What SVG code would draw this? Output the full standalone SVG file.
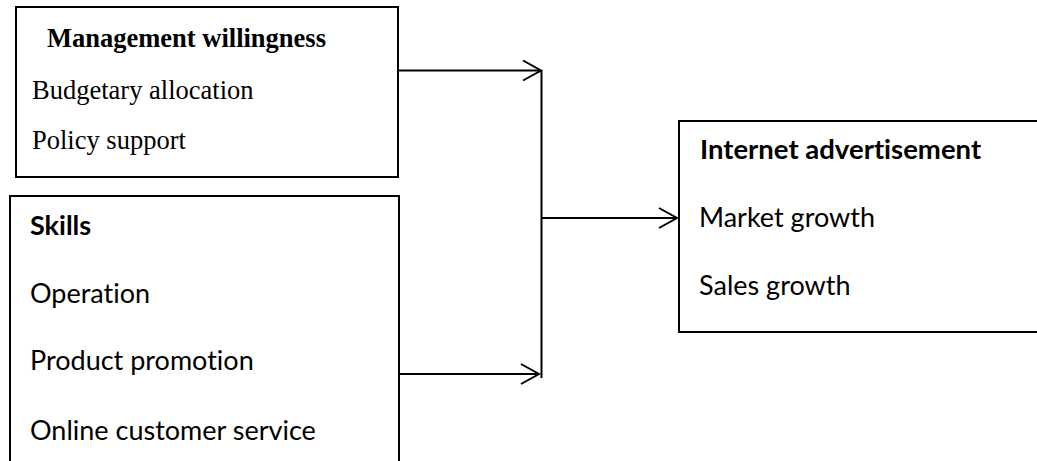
<svg xmlns="http://www.w3.org/2000/svg" width="1037" height="461" viewBox="0 0 1037 461">
<style>
.box{fill:#fff;stroke:#000;stroke-width:2}
.serif{font-family:"Liberation Serif","Times New Roman",serif;font-size:26.5px;fill:#000}
.sans{font-family:Lato,"Open Sans",sans-serif;font-size:27px;fill:#000;font-variant-ligatures:none}
.b{font-weight:bold}
.conn{fill:none;stroke:#000;stroke-width:2}
</style>
<defs>
<marker id="arr" markerUnits="userSpaceOnUse" markerWidth="22" markerHeight="24" refX="19" refY="11" orient="auto">
<path d="M1,1 L19,11 L1,21" fill="none" stroke="#000" stroke-width="2"/>
</marker>
</defs>
<g id="management">
<rect class="box" x="16" y="7" width="382" height="170"/>
<text class="serif b" x="47" y="47">Management willingness</text>
<text class="serif" x="32" y="99">Budgetary allocation</text>
<text class="serif" x="32" y="149">Policy support</text>
</g>
<g id="skills">
<rect class="box" x="10" y="196" width="389" height="280"/>
<text class="sans b" x="30" y="235">Skills</text>
<text class="sans" x="30" y="303">Operation</text>
<text class="sans" x="30" y="370">Product promotion</text>
<text class="sans" x="30" y="440">Online customer service</text>
</g>
<g id="internet">
<rect class="box" x="679" y="121" width="360" height="211"/>
<text class="sans b" x="700" y="159" style="font-size:27.5px">Internet advertisement</text>
<text class="sans" x="699" y="227">Market growth</text>
<text class="sans" x="699" y="295">Sales growth</text>
</g>
<g id="connectors">
<line class="conn" x1="398" y1="70.5" x2="541" y2="70.5" marker-end="url(#arr)"/>
<line class="conn" x1="399" y1="374" x2="539" y2="374" marker-end="url(#arr)"/>
<line class="conn" x1="541.5" y1="70" x2="541.5" y2="378"/>
<line class="conn" x1="541" y1="218" x2="677" y2="218" marker-end="url(#arr)"/>
</g>
</svg>
